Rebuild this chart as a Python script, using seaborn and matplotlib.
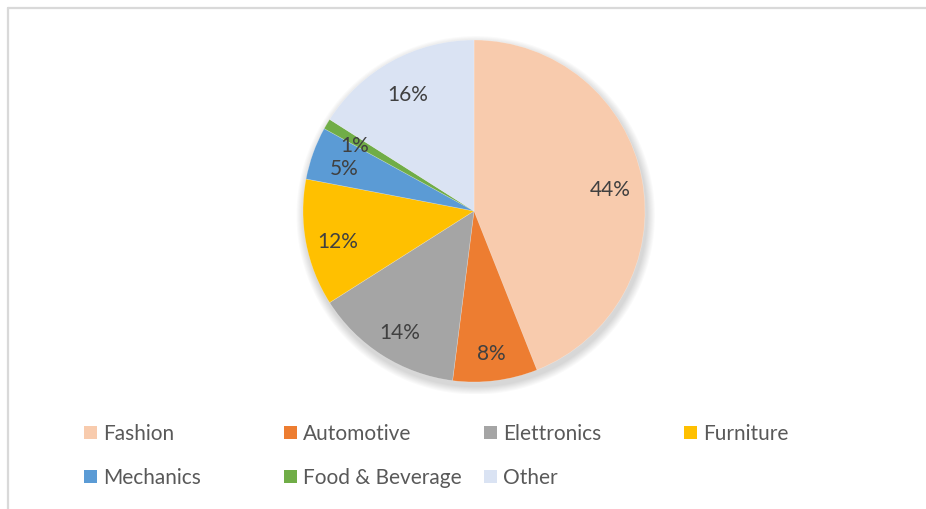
import matplotlib
matplotlib.use("Agg")
import matplotlib.pyplot as plt
from matplotlib.lines import Line2D
from matplotlib.patches import Patch, Circle
import seaborn as sns

categories = ["Fashion", "Automotive", "Elettronics", "Furniture",
              "Mechanics", "Food & Beverage", "Other"]
shares = [44, 8, 14, 12, 5, 1, 16]
colors = ["#F8CBAD", "#ED7D31", "#A5A5A5", "#FFC000",
          "#5B9BD5", "#70AD47", "#DAE3F3"]

sns.set_theme(style="white")
plt.rcParams["font.family"] = ["Lato", "DejaVu Sans"]

W, H = 926, 509
fig = plt.figure(figsize=(W / 100, H / 100), dpi=100)
fig.patch.set_facecolor("white")

# pie centred at (474, 211) px, radius 171 px; axes padded so the shadow fits
cx, cy, r = 474, 211, 171
pad = 12
ax = fig.add_axes([(cx - r - pad) / W, (H - cy - r - pad) / H,
                   2 * (r + pad) / W, 2 * (r + pad) / H])
lim = (r + pad) / r
ax.set_xlim(-lim, lim)
ax.set_ylim(-lim, lim)
ax.set_aspect("equal")
ax.axis("off")

# soft drop shadow under the pie
for k in range(8):
    ax.add_patch(Circle((0.01, -0.025), 1.0 + 0.006 * (8 - k), facecolor="black",
                        edgecolor="none", alpha=0.018, zorder=0))

wedges, texts, autotexts = ax.pie(
    shares, colors=colors, startangle=90, counterclock=False,
    autopct=lambda p: f"{p:.0f}%", pctdistance=0.81,
    wedgeprops=dict(linewidth=0.4, edgecolor=(1, 1, 1, 0.35)),
    textprops=dict(color="#404040", fontsize=15),
    frame=False,
)
for w in wedges:
    w.set_zorder(2)
for t in autotexts:
    x, y = t.get_position()
    t.set_position((x, y - 0.03))
    t.set_zorder(3)
ax.set_xlim(-lim, lim)
ax.set_ylim(-lim, lim)
ax.axis("off")

# chart frame (left and top edges)
fig.add_artist(Line2D([8 / W, 8 / W], [0, 1 - 8 / H], transform=fig.transFigure,
                      color="#D9D9D9", lw=1.6))
fig.add_artist(Line2D([8 / W, 1], [1 - 8 / H, 1 - 8 / H], transform=fig.transFigure,
                      color="#D9D9D9", lw=1.6))

# legend laid out in evenly spaced columns, two rows
ncols = 4
col_x = [84, 284, 484, 684]
for c in range(ncols):
    idx = [i for i in range(len(categories)) if i % ncols == c]
    handles = [Patch(facecolor=colors[i], edgecolor="none") for i in idx]
    labels = [categories[i] for i in idx]
    leg = fig.legend(handles, labels, loc="upper left",
                     bbox_to_anchor=(col_x[c] / W, 1 - 424 / H),
                     frameon=False, fontsize=15, handlelength=0.62, handleheight=0.62,
                     handletextpad=0.28, labelspacing=1.15, borderaxespad=0, borderpad=0)
    for t in leg.get_texts():
        t.set_color("#595959")

fig.savefig("out.png", dpi=100, facecolor="white")
